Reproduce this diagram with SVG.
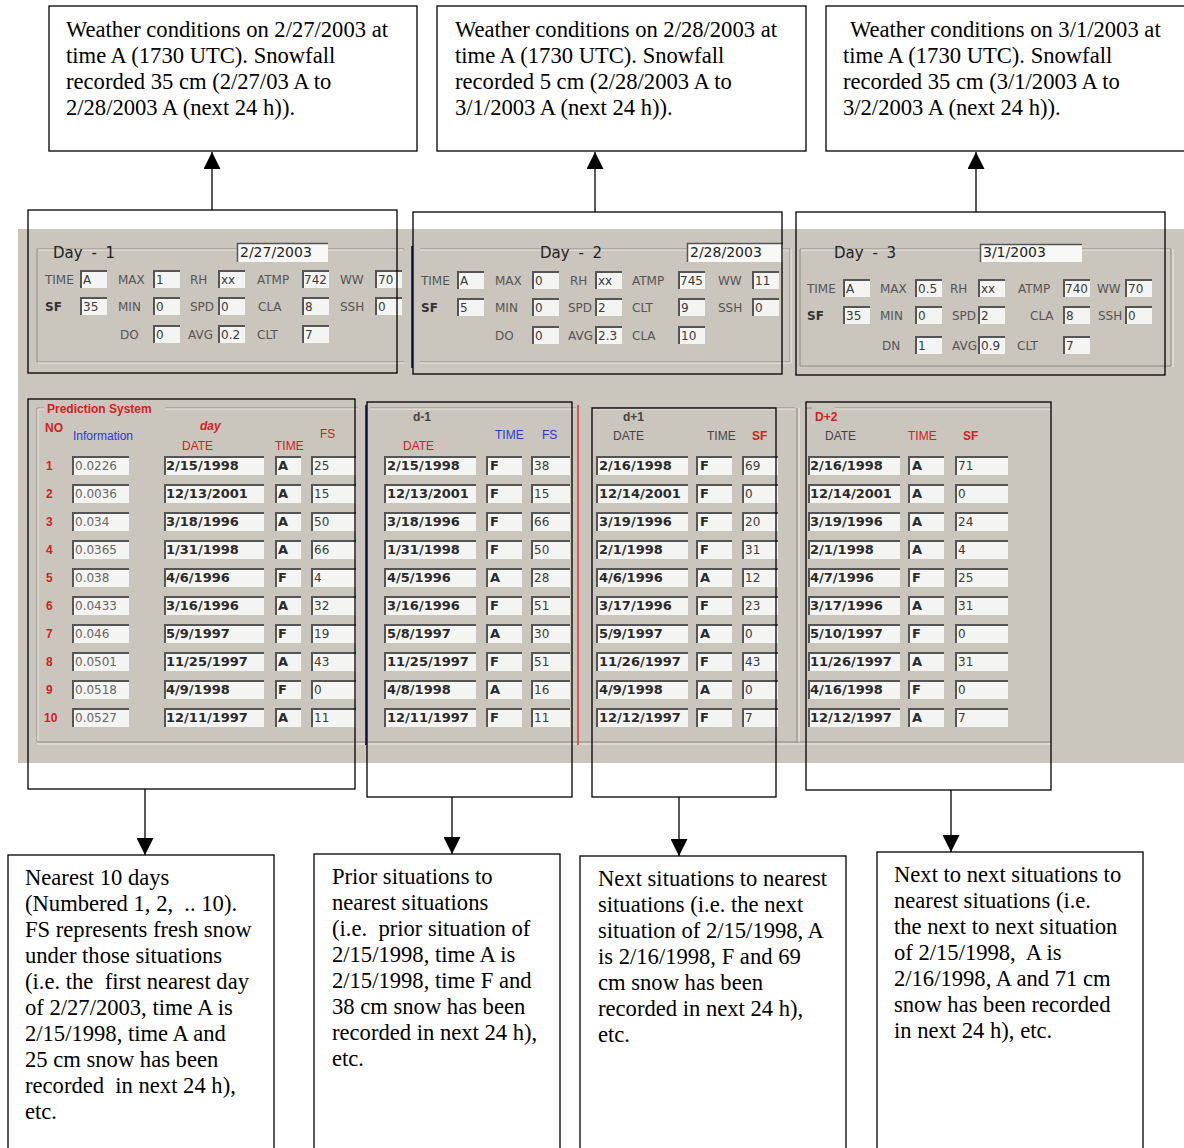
<svg xmlns="http://www.w3.org/2000/svg" xmlns:xlink="http://www.w3.org/1999/xlink" width="1184" height="1148" viewBox="0 0 1184 1148">
  <style>
    .box{fill:#fff;stroke:#000;stroke-width:1.3}
    .frame{fill:none;stroke:#000;stroke-width:1.3}
    .tx{font-family:"Liberation Serif","Times New Roman",serif;font-size:22.6px;fill:#000}
    .panel{fill:#cac6be}
    .fb{fill:#f4f4f2}
    .fe{fill:none;stroke:#555;stroke-width:2}
    .lb{font-family:"DejaVu Sans",sans-serif;font-size:12px;fill:#555}
    .lbk{font-family:"DejaVu Sans",sans-serif;font-size:12px;font-weight:bold;fill:#333}
    .v{font-family:"DejaVu Sans",sans-serif;font-size:12px;fill:#3a3a3a}
    .vl{font-family:"DejaVu Sans",sans-serif;font-size:12px;fill:#666}
    .vb{font-family:"DejaVu Sans",sans-serif;font-size:13px;font-weight:bold;fill:#2a2a2a}
    .dt{font-family:"DejaVu Sans",sans-serif;font-size:14px;fill:#222}
    .dl{font-family:"DejaVu Sans",sans-serif;font-size:15px;fill:#222;word-spacing:4px}
    .hd{font-family:"Liberation Sans",Arial,sans-serif;font-size:12px;fill:#444}
    .b{font-weight:bold}
    .red{fill:#d42020}
    .blue{fill:#2a3ad0}
    .eD{fill:none;stroke:#8f8b83;stroke-width:1}
    .eL{fill:none;stroke:#eeece7;stroke-width:1}
    #connectors line{stroke:#000;stroke-width:1.3;marker-end:url(#ah)}
  </style>
  <defs>
    <marker id="ah" markerWidth="17" markerHeight="17" refX="17" refY="8.5" orient="auto" markerUnits="userSpaceOnUse">
      <path d="M0,0 L17,8.5 L0,17 z" fill="#000"/>
    </marker>
    <!-- sunken text fields, one per width -->
    <g id="L57"><rect width="57" height="19" class="fb"/><path d="M1,19V1H57" class="fe"/></g>
    <g id="L100"><rect width="100" height="19" class="fb"/><path d="M1,19V1H100" class="fe"/></g>
    <g id="L26"><rect width="26" height="19" class="fb"/><path d="M1,19V1H26" class="fe"/></g>
    <g id="L45"><rect width="45" height="19" class="fb"/><path d="M1,19V1H45" class="fe"/></g>
    <g id="L92"><rect width="92" height="19" class="fb"/><path d="M1,19V1H92" class="fe"/></g>
    <g id="L36"><rect width="36" height="19" class="fb"/><path d="M1,19V1H36" class="fe"/></g>
    <g id="L39"><rect width="39" height="19" class="fb"/><path d="M1,19V1H39" class="fe"/></g>
    <g id="L53"><rect width="53" height="19" class="fb"/><path d="M1,19V1H53" class="fe"/></g>
    <g id="D27"><rect width="27" height="18" class="fb"/><path d="M1,18V1H27" class="fe" stroke-width="1.5"/></g>
  </defs>

  <rect width="1184" height="1148" fill="#fff"/>

  <!-- top notes -->
  <g id="note-day1">
    <rect class="box" x="49" y="6" width="368" height="145"/>
    <text class="tx" x="66" y="37">Weather conditions on 2/27/2003 at</text>
    <text class="tx" x="66" y="63">time A (1730 UTC). Snowfall</text>
    <text class="tx" x="66" y="89">recorded 35 cm (2/27/03 A to</text>
    <text class="tx" x="66" y="115">2/28/2003 A (next 24 h)).</text>
  </g>
  <g id="note-day2">
    <rect class="box" x="437" y="6" width="369" height="145"/>
    <text class="tx" x="455" y="37">Weather conditions on 2/28/2003 at</text>
    <text class="tx" x="455" y="63">time A (1730 UTC). Snowfall</text>
    <text class="tx" x="455" y="89">recorded 5 cm (2/28/2003 A to</text>
    <text class="tx" x="455" y="115">3/1/2003 A (next 24 h)).</text>
  </g>
  <g id="note-day3">
    <rect class="box" x="826" y="6" width="372" height="145"/>
    <text class="tx" x="850" y="37">Weather conditions on 3/1/2003 at</text>
    <text class="tx" x="843" y="63">time A (1730 UTC). Snowfall</text>
    <text class="tx" x="843" y="89">recorded 35 cm (3/1/2003 A to</text>
    <text class="tx" x="843" y="115">3/2/2003 A (next 24 h)).</text>
  </g>

  <!-- application window -->
  <g id="window">
    <rect class="panel" x="18" y="229" width="1170" height="534"/>
    <!-- etched group frames -->
    <path class="eD" d="M37,249H404M37,249V362H404"/>
    <path class="eL" d="M38,250H403M38,363H404"/>
    <path class="eD" d="M420,249H790V362H420"/>
    <path class="eL" d="M420,250H789M420,363H790M791,249V363"/>
    <path class="eD" d="M800,249H1171V366H800Z"/>
    <path class="eL" d="M801,250H1170M1173,249V367"/>
    <line x1="412" y1="246" x2="412" y2="368" stroke="#2233b0" stroke-width="2"/>

    <path class="eD" d="M37,408H44M165,408H358M37,408V742H1052"/>
    <path class="eL" d="M38,409H44M165,409H358M38,409V741M37,744H1052"/>
    <path class="eD" d="M370,408H576M590,408H795M797,408V742M806,408H812M835,408H1052"/>
    <path class="eL" d="M370,409H576M590,409H795M799,408V742M835,409H1052"/>
    <line x1="366" y1="405" x2="366" y2="745" stroke="#2233b0" stroke-width="2"/>
    <line x1="578" y1="405" x2="578" y2="745" stroke="#e03030" stroke-width="1.5"/>
  </g>

  <!-- Day 1 -->
  <g id="day1">
    <text class="dl" x="53" y="258">Day - 1</text>
    <rect x="237" y="243" width="91" height="19" fill="#f8f8f6"/>
    <path d="M237.5,262V243.5H328" fill="none" stroke="#555" stroke-width="1.5"/>
    <text class="dt" x="240" y="257">2/27/2003</text>
    <text class="lb" x="45" y="283.5">TIME</text>
    <text class="lb" x="118" y="283.5">MAX</text>
    <text class="lb" x="190" y="283.5">RH</text>
    <text class="lb" x="257" y="283.5">ATMP</text>
    <text class="lb" x="340" y="283.5">WW</text>
    <text class="lbk" x="45" y="310.5">SF</text>
    <text class="lb" x="118" y="310.5">MIN</text>
    <text class="lb" x="190" y="310.5">SPD</text>
    <text class="lb" x="258" y="310.5">CLA</text>
    <text class="lb" x="340" y="310.5">SSH</text>
    <text class="lb" x="120" y="338.5">DO</text>
    <text class="lb" x="188" y="338.5">AVG</text>
    <text class="lb" x="257" y="338.5">CLT</text>
    <use xlink:href="#D27" x="80" y="270"/><use xlink:href="#D27" x="153" y="270"/><use xlink:href="#D27" x="218" y="270"/><use xlink:href="#D27" x="302" y="270"/><use xlink:href="#D27" x="375" y="270"/>
    <use xlink:href="#D27" x="80" y="297"/><use xlink:href="#D27" x="153" y="297"/><use xlink:href="#D27" x="218" y="297"/><use xlink:href="#D27" x="302" y="297"/><use xlink:href="#D27" x="375" y="297"/>
    <use xlink:href="#D27" x="153" y="325"/><use xlink:href="#D27" x="218" y="325"/><use xlink:href="#D27" x="302" y="325"/>
    <text class="v" x="83" y="283.5">A</text><text class="v" x="156" y="283.5">1</text><text class="v" x="221" y="283.5">xx</text><text class="v" x="304" y="283.5">742</text><text class="v" x="378" y="283.5">70</text>
    <text class="v" x="83" y="310.5">35</text><text class="v" x="156" y="310.5">0</text><text class="v" x="221" y="310.5">0</text><text class="v" x="305" y="310.5">8</text><text class="v" x="378" y="310.5">0</text>
    <text class="v" x="156" y="338.5">0</text><text class="v" x="221" y="338.5">0.2</text><text class="v" x="305" y="338.5">7</text>
  </g>

  <!-- Day 2 -->
  <g id="day2">
    <text class="dl" x="540" y="258">Day - 2</text>
    <rect x="687" y="243" width="96" height="19" fill="#f8f8f6"/>
    <path d="M687.5,262V243.5H783" fill="none" stroke="#555" stroke-width="1.5"/>
    <text class="dt" x="690" y="257">2/28/2003</text>
    <text class="lb" x="421" y="284.5">TIME</text>
    <text class="lb" x="495" y="284.5">MAX</text>
    <text class="lb" x="570" y="284.5">RH</text>
    <text class="lb" x="632" y="284.5">ATMP</text>
    <text class="lb" x="718" y="284.5">WW</text>
    <text class="lbk" x="421" y="311.5">SF</text>
    <text class="lb" x="495" y="311.5">MIN</text>
    <text class="lb" x="568" y="311.5">SPD</text>
    <text class="lb" x="632" y="311.5">CLT</text>
    <text class="lb" x="718" y="311.5">SSH</text>
    <text class="lb" x="495" y="339.5">DO</text>
    <text class="lb" x="568" y="339.5">AVG</text>
    <text class="lb" x="632" y="339.5">CLA</text>
    <use xlink:href="#D27" x="457" y="271"/><use xlink:href="#D27" x="532" y="271"/><use xlink:href="#D27" x="595" y="271"/><use xlink:href="#D27" x="678" y="271"/><use xlink:href="#D27" x="752" y="271"/>
    <use xlink:href="#D27" x="457" y="298"/><use xlink:href="#D27" x="532" y="298"/><use xlink:href="#D27" x="595" y="298"/><use xlink:href="#D27" x="678" y="298"/><use xlink:href="#D27" x="752" y="298"/>
    <use xlink:href="#D27" x="532" y="326"/><use xlink:href="#D27" x="595" y="326"/><use xlink:href="#D27" x="678" y="326"/>
    <text class="v" x="460" y="284.5">A</text><text class="v" x="535" y="284.5">0</text><text class="v" x="598" y="284.5">xx</text><text class="v" x="680" y="284.5">745</text><text class="v" x="755" y="284.5">11</text>
    <text class="v" x="460" y="311.5">5</text><text class="v" x="535" y="311.5">0</text><text class="v" x="598" y="311.5">2</text><text class="v" x="681" y="311.5">9</text><text class="v" x="755" y="311.5">0</text>
    <text class="v" x="535" y="339.5">0</text><text class="v" x="598" y="339.5">2.3</text><text class="v" x="681" y="339.5">10</text>
  </g>

  <!-- Day 3 -->
  <g id="day3">
    <text class="dl" x="834" y="258">Day - 3</text>
    <rect x="980" y="244" width="102" height="18" fill="#f8f8f6"/>
    <path d="M980.5,262V244.5H1082" fill="none" stroke="#555" stroke-width="1.5"/>
    <text class="dt" x="983" y="257">3/1/2003</text>
    <text class="lb" x="807" y="292.5">TIME</text>
    <text class="lb" x="880" y="292.5">MAX</text>
    <text class="lb" x="950" y="292.5">RH</text>
    <text class="lb" x="1018" y="292.5">ATMP</text>
    <text class="lb" x="1097" y="292.5">WW</text>
    <text class="lbk" x="807" y="319.5">SF</text>
    <text class="lb" x="880" y="319.5">MIN</text>
    <text class="lb" x="952" y="319.5">SPD</text>
    <text class="lb" x="1030" y="319.5">CLA</text>
    <text class="lb" x="1098" y="319.5">SSH</text>
    <text class="lb" x="882" y="349.5">DN</text>
    <text class="lb" x="952" y="349.5">AVG</text>
    <text class="lb" x="1017" y="349.5">CLT</text>
    <use xlink:href="#D27" x="843" y="279"/><use xlink:href="#D27" x="915" y="279"/><use xlink:href="#D27" x="978" y="279"/><use xlink:href="#D27" x="1063" y="279"/><use xlink:href="#D27" x="1125" y="279"/>
    <use xlink:href="#D27" x="843" y="306"/><use xlink:href="#D27" x="915" y="306"/><use xlink:href="#D27" x="978" y="306"/><use xlink:href="#D27" x="1063" y="306"/><use xlink:href="#D27" x="1125" y="306"/>
    <use xlink:href="#D27" x="915" y="336"/><use xlink:href="#D27" x="978" y="336"/><use xlink:href="#D27" x="1063" y="336"/>
    <text class="v" x="846" y="292.5">A</text><text class="v" x="918" y="292.5">0.5</text><text class="v" x="981" y="292.5">xx</text><text class="v" x="1065" y="292.5">740</text><text class="v" x="1128" y="292.5">70</text>
    <text class="v" x="846" y="319.5">35</text><text class="v" x="918" y="319.5">0</text><text class="v" x="981" y="319.5">2</text><text class="v" x="1066" y="319.5">8</text><text class="v" x="1128" y="319.5">0</text>
    <text class="v" x="918" y="349.5">1</text><text class="v" x="981" y="349.5">0.9</text><text class="v" x="1066" y="349.5">7</text>
  </g>

  <!-- nearest days -->
  <g id="nearest">
    <text class="hd b red" x="47" y="413" font-size="13">Prediction System</text>
    <text class="hd b red" x="45" y="432">NO</text>
    <text class="hd blue" x="73" y="440" font-size="10.5">Information</text>
    <text class="hd b red" x="200" y="430" font-style="italic">day</text>
    <text class="hd red" x="182" y="450">DATE</text>
    <text class="hd red" x="275" y="450">TIME</text>
    <text class="hd red" x="320" y="438">FS</text>
    <g>
      <use xlink:href="#L57" x="72" y="456"/><use xlink:href="#L100" x="164" y="456"/><use xlink:href="#L26" x="275" y="456"/><use xlink:href="#L45" x="311" y="456"/>
      <text class="hd b red" x="46" y="470">1</text><text class="vl" x="75" y="470">0.0226</text><text class="vb" x="166" y="470">2/15/1998</text><text class="vb" x="278" y="470">A</text><text class="v" x="314" y="470">25</text>
    </g>
    <g transform="translate(0,28)">
      <use xlink:href="#L57" x="72" y="456"/><use xlink:href="#L100" x="164" y="456"/><use xlink:href="#L26" x="275" y="456"/><use xlink:href="#L45" x="311" y="456"/>
      <text class="hd b red" x="46" y="470">2</text><text class="vl" x="75" y="470">0.0036</text><text class="vb" x="166" y="470">12/13/2001</text><text class="vb" x="278" y="470">A</text><text class="v" x="314" y="470">15</text>
    </g>
    <g transform="translate(0,56)">
      <use xlink:href="#L57" x="72" y="456"/><use xlink:href="#L100" x="164" y="456"/><use xlink:href="#L26" x="275" y="456"/><use xlink:href="#L45" x="311" y="456"/>
      <text class="hd b red" x="46" y="470">3</text><text class="vl" x="75" y="470">0.034</text><text class="vb" x="166" y="470">3/18/1996</text><text class="vb" x="278" y="470">A</text><text class="v" x="314" y="470">50</text>
    </g>
    <g transform="translate(0,84)">
      <use xlink:href="#L57" x="72" y="456"/><use xlink:href="#L100" x="164" y="456"/><use xlink:href="#L26" x="275" y="456"/><use xlink:href="#L45" x="311" y="456"/>
      <text class="hd b red" x="46" y="470">4</text><text class="vl" x="75" y="470">0.0365</text><text class="vb" x="166" y="470">1/31/1998</text><text class="vb" x="278" y="470">A</text><text class="v" x="314" y="470">66</text>
    </g>
    <g transform="translate(0,112)">
      <use xlink:href="#L57" x="72" y="456"/><use xlink:href="#L100" x="164" y="456"/><use xlink:href="#L26" x="275" y="456"/><use xlink:href="#L45" x="311" y="456"/>
      <text class="hd b red" x="46" y="470">5</text><text class="vl" x="75" y="470">0.038</text><text class="vb" x="166" y="470">4/6/1996</text><text class="vb" x="278" y="470">F</text><text class="v" x="314" y="470">4</text>
    </g>
    <g transform="translate(0,140)">
      <use xlink:href="#L57" x="72" y="456"/><use xlink:href="#L100" x="164" y="456"/><use xlink:href="#L26" x="275" y="456"/><use xlink:href="#L45" x="311" y="456"/>
      <text class="hd b red" x="46" y="470">6</text><text class="vl" x="75" y="470">0.0433</text><text class="vb" x="166" y="470">3/16/1996</text><text class="vb" x="278" y="470">A</text><text class="v" x="314" y="470">32</text>
    </g>
    <g transform="translate(0,168)">
      <use xlink:href="#L57" x="72" y="456"/><use xlink:href="#L100" x="164" y="456"/><use xlink:href="#L26" x="275" y="456"/><use xlink:href="#L45" x="311" y="456"/>
      <text class="hd b red" x="46" y="470">7</text><text class="vl" x="75" y="470">0.046</text><text class="vb" x="166" y="470">5/9/1997</text><text class="vb" x="278" y="470">F</text><text class="v" x="314" y="470">19</text>
    </g>
    <g transform="translate(0,196)">
      <use xlink:href="#L57" x="72" y="456"/><use xlink:href="#L100" x="164" y="456"/><use xlink:href="#L26" x="275" y="456"/><use xlink:href="#L45" x="311" y="456"/>
      <text class="hd b red" x="46" y="470">8</text><text class="vl" x="75" y="470">0.0501</text><text class="vb" x="166" y="470">11/25/1997</text><text class="vb" x="278" y="470">A</text><text class="v" x="314" y="470">43</text>
    </g>
    <g transform="translate(0,224)">
      <use xlink:href="#L57" x="72" y="456"/><use xlink:href="#L100" x="164" y="456"/><use xlink:href="#L26" x="275" y="456"/><use xlink:href="#L45" x="311" y="456"/>
      <text class="hd b red" x="46" y="470">9</text><text class="vl" x="75" y="470">0.0518</text><text class="vb" x="166" y="470">4/9/1998</text><text class="vb" x="278" y="470">F</text><text class="v" x="314" y="470">0</text>
    </g>
    <g transform="translate(0,252)">
      <use xlink:href="#L57" x="72" y="456"/><use xlink:href="#L100" x="164" y="456"/><use xlink:href="#L26" x="275" y="456"/><use xlink:href="#L45" x="311" y="456"/>
      <text class="hd b red" x="44" y="470">10</text><text class="vl" x="75" y="470">0.0527</text><text class="vb" x="166" y="470">12/11/1997</text><text class="vb" x="278" y="470">A</text><text class="v" x="314" y="470">11</text>
    </g>
  </g>

  <!-- prior situations (d-1) -->
  <g id="prior">
    <text class="hd b" x="413" y="421" fill="#3a2448">d-1</text>
    <text class="hd red" x="403" y="450">DATE</text>
    <text class="hd blue" x="495" y="439">TIME</text>
    <text class="hd blue" x="542" y="439">FS</text>
    <g><use xlink:href="#L92" x="384" y="456"/><use xlink:href="#L36" x="486" y="456"/><use xlink:href="#L39" x="531" y="456"/>
      <text class="vb" x="387" y="470">2/15/1998</text><text class="vb" x="490" y="470">F</text><text class="v" x="534" y="470">38</text></g>
    <g transform="translate(0,28)"><use xlink:href="#L92" x="384" y="456"/><use xlink:href="#L36" x="486" y="456"/><use xlink:href="#L39" x="531" y="456"/>
      <text class="vb" x="387" y="470">12/13/2001</text><text class="vb" x="490" y="470">F</text><text class="v" x="534" y="470">15</text></g>
    <g transform="translate(0,56)"><use xlink:href="#L92" x="384" y="456"/><use xlink:href="#L36" x="486" y="456"/><use xlink:href="#L39" x="531" y="456"/>
      <text class="vb" x="387" y="470">3/18/1996</text><text class="vb" x="490" y="470">F</text><text class="v" x="534" y="470">66</text></g>
    <g transform="translate(0,84)"><use xlink:href="#L92" x="384" y="456"/><use xlink:href="#L36" x="486" y="456"/><use xlink:href="#L39" x="531" y="456"/>
      <text class="vb" x="387" y="470">1/31/1998</text><text class="vb" x="490" y="470">F</text><text class="v" x="534" y="470">50</text></g>
    <g transform="translate(0,112)"><use xlink:href="#L92" x="384" y="456"/><use xlink:href="#L36" x="486" y="456"/><use xlink:href="#L39" x="531" y="456"/>
      <text class="vb" x="387" y="470">4/5/1996</text><text class="vb" x="490" y="470">A</text><text class="v" x="534" y="470">28</text></g>
    <g transform="translate(0,140)"><use xlink:href="#L92" x="384" y="456"/><use xlink:href="#L36" x="486" y="456"/><use xlink:href="#L39" x="531" y="456"/>
      <text class="vb" x="387" y="470">3/16/1996</text><text class="vb" x="490" y="470">F</text><text class="v" x="534" y="470">51</text></g>
    <g transform="translate(0,168)"><use xlink:href="#L92" x="384" y="456"/><use xlink:href="#L36" x="486" y="456"/><use xlink:href="#L39" x="531" y="456"/>
      <text class="vb" x="387" y="470">5/8/1997</text><text class="vb" x="490" y="470">A</text><text class="v" x="534" y="470">30</text></g>
    <g transform="translate(0,196)"><use xlink:href="#L92" x="384" y="456"/><use xlink:href="#L36" x="486" y="456"/><use xlink:href="#L39" x="531" y="456"/>
      <text class="vb" x="387" y="470">11/25/1997</text><text class="vb" x="490" y="470">F</text><text class="v" x="534" y="470">51</text></g>
    <g transform="translate(0,224)"><use xlink:href="#L92" x="384" y="456"/><use xlink:href="#L36" x="486" y="456"/><use xlink:href="#L39" x="531" y="456"/>
      <text class="vb" x="387" y="470">4/8/1998</text><text class="vb" x="490" y="470">A</text><text class="v" x="534" y="470">16</text></g>
    <g transform="translate(0,252)"><use xlink:href="#L92" x="384" y="456"/><use xlink:href="#L36" x="486" y="456"/><use xlink:href="#L39" x="531" y="456"/>
      <text class="vb" x="387" y="470">12/11/1997</text><text class="vb" x="490" y="470">F</text><text class="v" x="534" y="470">11</text></g>
  </g>

  <!-- next situations (d+1) -->
  <g id="next">
    <text class="hd b" x="623" y="421" fill="#444">d+1</text>
    <text class="hd" x="613" y="440">DATE</text>
    <text class="hd" x="707" y="440">TIME</text>
    <text class="hd b red" x="752" y="440">SF</text>
    <g><use xlink:href="#L92" x="596" y="456"/><use xlink:href="#L36" x="696" y="456"/><use xlink:href="#L36" x="742" y="456"/>
      <text class="vb" x="599" y="470">2/16/1998</text><text class="vb" x="700" y="470">F</text><text class="v" x="745" y="470">69</text></g>
    <g transform="translate(0,28)"><use xlink:href="#L92" x="596" y="456"/><use xlink:href="#L36" x="696" y="456"/><use xlink:href="#L36" x="742" y="456"/>
      <text class="vb" x="599" y="470">12/14/2001</text><text class="vb" x="700" y="470">F</text><text class="v" x="745" y="470">0</text></g>
    <g transform="translate(0,56)"><use xlink:href="#L92" x="596" y="456"/><use xlink:href="#L36" x="696" y="456"/><use xlink:href="#L36" x="742" y="456"/>
      <text class="vb" x="599" y="470">3/19/1996</text><text class="vb" x="700" y="470">F</text><text class="v" x="745" y="470">20</text></g>
    <g transform="translate(0,84)"><use xlink:href="#L92" x="596" y="456"/><use xlink:href="#L36" x="696" y="456"/><use xlink:href="#L36" x="742" y="456"/>
      <text class="vb" x="599" y="470">2/1/1998</text><text class="vb" x="700" y="470">F</text><text class="v" x="745" y="470">31</text></g>
    <g transform="translate(0,112)"><use xlink:href="#L92" x="596" y="456"/><use xlink:href="#L36" x="696" y="456"/><use xlink:href="#L36" x="742" y="456"/>
      <text class="vb" x="599" y="470">4/6/1996</text><text class="vb" x="700" y="470">A</text><text class="v" x="745" y="470">12</text></g>
    <g transform="translate(0,140)"><use xlink:href="#L92" x="596" y="456"/><use xlink:href="#L36" x="696" y="456"/><use xlink:href="#L36" x="742" y="456"/>
      <text class="vb" x="599" y="470">3/17/1996</text><text class="vb" x="700" y="470">F</text><text class="v" x="745" y="470">23</text></g>
    <g transform="translate(0,168)"><use xlink:href="#L92" x="596" y="456"/><use xlink:href="#L36" x="696" y="456"/><use xlink:href="#L36" x="742" y="456"/>
      <text class="vb" x="599" y="470">5/9/1997</text><text class="vb" x="700" y="470">A</text><text class="v" x="745" y="470">0</text></g>
    <g transform="translate(0,196)"><use xlink:href="#L92" x="596" y="456"/><use xlink:href="#L36" x="696" y="456"/><use xlink:href="#L36" x="742" y="456"/>
      <text class="vb" x="599" y="470">11/26/1997</text><text class="vb" x="700" y="470">F</text><text class="v" x="745" y="470">43</text></g>
    <g transform="translate(0,224)"><use xlink:href="#L92" x="596" y="456"/><use xlink:href="#L36" x="696" y="456"/><use xlink:href="#L36" x="742" y="456"/>
      <text class="vb" x="599" y="470">4/9/1998</text><text class="vb" x="700" y="470">A</text><text class="v" x="745" y="470">0</text></g>
    <g transform="translate(0,252)"><use xlink:href="#L92" x="596" y="456"/><use xlink:href="#L36" x="696" y="456"/><use xlink:href="#L36" x="742" y="456"/>
      <text class="vb" x="599" y="470">12/12/1997</text><text class="vb" x="700" y="470">F</text><text class="v" x="745" y="470">7</text></g>
  </g>

  <!-- next to next situations (D+2) -->
  <g id="next2">
    <text class="hd b red" x="815" y="421">D+2</text>
    <text class="hd" x="825" y="440">DATE</text>
    <text class="hd red" x="908" y="440">TIME</text>
    <text class="hd b red" x="963" y="440">SF</text>
    <g><use xlink:href="#L92" x="808" y="456"/><use xlink:href="#L36" x="908" y="456"/><use xlink:href="#L53" x="955" y="456"/>
      <text class="vb" x="810" y="470">2/16/1998</text><text class="vb" x="912" y="470">A</text><text class="v" x="958" y="470">71</text></g>
    <g transform="translate(0,28)"><use xlink:href="#L92" x="808" y="456"/><use xlink:href="#L36" x="908" y="456"/><use xlink:href="#L53" x="955" y="456"/>
      <text class="vb" x="810" y="470">12/14/2001</text><text class="vb" x="912" y="470">A</text><text class="v" x="958" y="470">0</text></g>
    <g transform="translate(0,56)"><use xlink:href="#L92" x="808" y="456"/><use xlink:href="#L36" x="908" y="456"/><use xlink:href="#L53" x="955" y="456"/>
      <text class="vb" x="810" y="470">3/19/1996</text><text class="vb" x="912" y="470">A</text><text class="v" x="958" y="470">24</text></g>
    <g transform="translate(0,84)"><use xlink:href="#L92" x="808" y="456"/><use xlink:href="#L36" x="908" y="456"/><use xlink:href="#L53" x="955" y="456"/>
      <text class="vb" x="810" y="470">2/1/1998</text><text class="vb" x="912" y="470">A</text><text class="v" x="958" y="470">4</text></g>
    <g transform="translate(0,112)"><use xlink:href="#L92" x="808" y="456"/><use xlink:href="#L36" x="908" y="456"/><use xlink:href="#L53" x="955" y="456"/>
      <text class="vb" x="810" y="470">4/7/1996</text><text class="vb" x="912" y="470">F</text><text class="v" x="958" y="470">25</text></g>
    <g transform="translate(0,140)"><use xlink:href="#L92" x="808" y="456"/><use xlink:href="#L36" x="908" y="456"/><use xlink:href="#L53" x="955" y="456"/>
      <text class="vb" x="810" y="470">3/17/1996</text><text class="vb" x="912" y="470">A</text><text class="v" x="958" y="470">31</text></g>
    <g transform="translate(0,168)"><use xlink:href="#L92" x="808" y="456"/><use xlink:href="#L36" x="908" y="456"/><use xlink:href="#L53" x="955" y="456"/>
      <text class="vb" x="810" y="470">5/10/1997</text><text class="vb" x="912" y="470">F</text><text class="v" x="958" y="470">0</text></g>
    <g transform="translate(0,196)"><use xlink:href="#L92" x="808" y="456"/><use xlink:href="#L36" x="908" y="456"/><use xlink:href="#L53" x="955" y="456"/>
      <text class="vb" x="810" y="470">11/26/1997</text><text class="vb" x="912" y="470">A</text><text class="v" x="958" y="470">31</text></g>
    <g transform="translate(0,224)"><use xlink:href="#L92" x="808" y="456"/><use xlink:href="#L36" x="908" y="456"/><use xlink:href="#L53" x="955" y="456"/>
      <text class="vb" x="810" y="470">4/16/1998</text><text class="vb" x="912" y="470">F</text><text class="v" x="958" y="470">0</text></g>
    <g transform="translate(0,252)"><use xlink:href="#L92" x="808" y="456"/><use xlink:href="#L36" x="908" y="456"/><use xlink:href="#L53" x="955" y="456"/>
      <text class="vb" x="810" y="470">12/12/1997</text><text class="vb" x="912" y="470">A</text><text class="v" x="958" y="470">7</text></g>
  </g>

  <!-- highlight outlines around panel parts -->
  <g id="outlines">
    <rect class="frame" x="28" y="210" width="369" height="163"/>
    <rect class="frame" x="413" y="212" width="369" height="162"/>
    <rect class="frame" x="796" y="212" width="369" height="163"/>
    <rect class="frame" x="28" y="399" width="327" height="390"/>
    <rect class="frame" x="367" y="402" width="205" height="395"/>
    <rect class="frame" x="592" y="408" width="184" height="389"/>
    <rect class="frame" x="806" y="402" width="245" height="388"/>
  </g>

  <!-- bottom notes -->
  <g id="note-nearest">
    <rect class="box" x="8" y="855" width="266" height="300"/>
    <text class="tx" x="25" y="885">Nearest 10 days</text>
    <text class="tx" x="25" y="911" xml:space="preserve">(Numbered 1, 2,  .. 10).</text>
    <text class="tx" x="25" y="937">FS represents fresh snow</text>
    <text class="tx" x="25" y="963">under those situations</text>
    <text class="tx" x="25" y="989" xml:space="preserve">(i.e. the  first nearest day</text>
    <text class="tx" x="25" y="1015">of 2/27/2003, time A is</text>
    <text class="tx" x="25" y="1041">2/15/1998, time A and</text>
    <text class="tx" x="25" y="1067">25 cm snow has been</text>
    <text class="tx" x="25" y="1093" xml:space="preserve">recorded  in next 24 h),</text>
    <text class="tx" x="25" y="1119">etc.</text>
  </g>
  <g id="note-prior">
    <rect class="box" x="314" y="854" width="246" height="300"/>
    <text class="tx" x="332" y="884">Prior situations to</text>
    <text class="tx" x="332" y="910">nearest situations</text>
    <text class="tx" x="332" y="936" xml:space="preserve">(i.e.  prior situation of</text>
    <text class="tx" x="332" y="962">2/15/1998, time A is</text>
    <text class="tx" x="332" y="988">2/15/1998, time F and</text>
    <text class="tx" x="332" y="1014">38 cm snow has been</text>
    <text class="tx" x="332" y="1040">recorded in next 24 h),</text>
    <text class="tx" x="332" y="1066">etc.</text>
  </g>
  <g id="note-next">
    <rect class="box" x="580" y="856" width="266" height="300"/>
    <text class="tx" x="598" y="886">Next situations to nearest</text>
    <text class="tx" x="598" y="912">situations (i.e. the next</text>
    <text class="tx" x="598" y="938">situation of 2/15/1998, A</text>
    <text class="tx" x="598" y="964">is 2/16/1998, F and 69</text>
    <text class="tx" x="598" y="990">cm snow has been</text>
    <text class="tx" x="598" y="1016">recorded in next 24 h),</text>
    <text class="tx" x="598" y="1042">etc.</text>
  </g>
  <g id="note-next2">
    <rect class="box" x="877" y="852" width="266" height="300"/>
    <text class="tx" x="894" y="882">Next to next situations to</text>
    <text class="tx" x="894" y="908">nearest situations (i.e.</text>
    <text class="tx" x="894" y="934">the next to next situation</text>
    <text class="tx" x="894" y="960" xml:space="preserve">of 2/15/1998,  A is</text>
    <text class="tx" x="894" y="986">2/16/1998, A and 71 cm</text>
    <text class="tx" x="894" y="1012">snow has been recorded</text>
    <text class="tx" x="894" y="1038">in next 24 h), etc.</text>
  </g>

  <!-- connectors -->
  <g id="connectors">
    <line x1="212" y1="210" x2="212" y2="152"/>
    <line x1="595" y1="212" x2="595" y2="152"/>
    <line x1="976" y1="212" x2="976" y2="152"/>
    <line x1="145" y1="789" x2="145" y2="855"/>
    <line x1="452" y1="797" x2="452" y2="854"/>
    <line x1="679" y1="797" x2="679" y2="856"/>
    <line x1="951" y1="790" x2="951" y2="852"/>
  </g>
</svg>
